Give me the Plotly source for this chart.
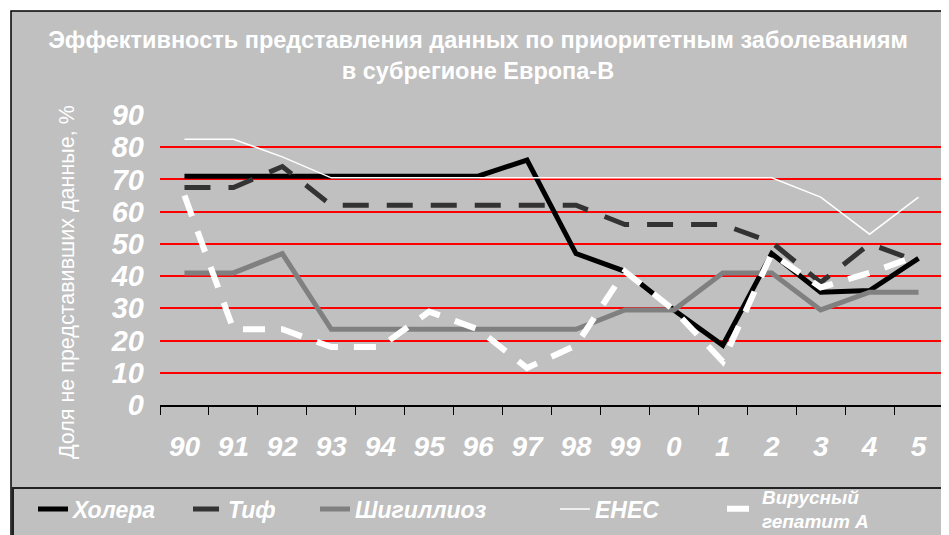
import plotly.graph_objects as go

years = ["90", "91", "92", "93", "94", "95", "96", "97",
         "98", "99", "0", "1", "2", "3", "4", "5"]

holera = [71, 71, 71, 71, 71, 71, 71, 76, 47, 41.5, 29.5, 18.5, 47, 35, 35.5, 45.5]
tif = [67.5, 67.5, 74, 62, 62, 62, 62, 62, 62, 56, 56, 56, 50.5, 38, 50, 44.5]
shigelloz = [41, 41, 47, 23.5, 23.5, 23.5, 23.5, 23.5, 23.5, 29.5, 29.5, 41, 41, 29.5, 35, 35]
ehec = [82.5, 82.5, 77, 70.5, 70.5, 70.5, 70.5, 70.5, 70.5, 70.5, 70.5, 70.5, 70.5, 64.5, 53, 64.5]
hepatit = [65, 23.5, 23.5, 18, 18, 29, 23.5, 11.5, 18.5, 41.5, 29.5, 13.5, 47, 36.5, 41, 46.5]

FONT = "Liberation Sans, Arial, sans-serif"
BG = "#C0C0C0"
W, H = 949, 535
OFF = 8  # page body margin

# plot area in window pixels
L, R, T, B = 160, 943, 115, 405
def px(x): return (x - L) / (R - L)
def py(y): return (B - y) / (B - T)

fig = go.Figure()
fig.add_trace(go.Scatter(x=years, y=holera, name="Холера", mode="lines", legend="legend",
                         line=dict(color="black", width=5)))
fig.add_trace(go.Scatter(x=years, y=tif, name="Тиф", mode="lines", legend="legend2",
                         line=dict(color="#333333", width=5, dash="26px,18px")))
fig.add_trace(go.Scatter(x=years, y=shigelloz, name="Шигиллиоз", mode="lines", legend="legend3",
                         line=dict(color="#808080", width=5)))
fig.add_trace(go.Scatter(x=years, y=ehec, name="EHEC", mode="lines", legend="legend4",
                         line=dict(color="white", width=1.5)))
fig.add_trace(go.Scatter(x=years, y=hepatit, name="Вирусный<br>гепатит А", mode="lines", legend="legend5",
                         line=dict(color="white", width=6, dash="22px,16px")))

leg_font = dict(size=23, weight="bold", style="italic", color="white", family=FONT)
def leg(text_x, size=23):
    f = dict(leg_font, size=size)
    return dict(orientation="h", xref="container", yref="container",
                x=(text_x - 48) / W, xanchor="left", y=1 - 501 / H, yanchor="middle",
                bgcolor="rgba(0,0,0,0)", borderwidth=0, font=f, itemwidth=30)

fig.update_layout(
    width=W, height=H,
    margin=dict(l=L - OFF, r=W - (R - OFF), t=T - OFF, b=H - (B - OFF)),
    paper_bgcolor="white",
    plot_bgcolor="rgba(0,0,0,0)",
    font=dict(family=FONT, color="white"),
    title=dict(
        text="Эффективность представления данных по приоритетным заболеваниям<br>в субрегионе Европа-В",
        x=470 / W, xanchor="center", xref="container",
        y=1 - 40 / H, yanchor="top", yref="container",
        font=dict(size=23.5, weight="bold", color="white", family=FONT),
    ),
    showlegend=True,
    legend=leg(73),
    legend2=leg(228),
    legend3=leg(355),
    legend4=leg(595),
    legend5=leg(762, 19),
    shapes=[
        dict(type="rect", xref="paper", yref="paper", layer="below",
             x0=px(11), x1=px(946), y0=py(545), y1=py(11),
             fillcolor=BG, line=dict(color="black", width=1.5)),
        dict(type="rect", xref="paper", yref="paper", layer="below",
             x0=px(13), x1=px(947), y0=py(545), y1=py(488),
             fillcolor=BG, line=dict(color="#222222", width=2)),
    ],
    annotations=[
        dict(text="Доля не представивших данные, %", textangle=-90,
             xref="paper", yref="paper", x=px(67), y=py(282),
             xanchor="center", yanchor="middle", showarrow=False,
             font=dict(size=21.5, color="white", family=FONT)),
    ],
)

fig.update_xaxes(
    type="category", range=[-0.5, 15.5], automargin=False, showgrid=False, showline=True,
    linecolor="black", linewidth=1.5,
    ticks="outside", tickson="boundaries", ticklen=8, tickcolor="black", tickwidth=1,
    tickfont=dict(size=28, weight="bold", style="italic", color="white", family=FONT),
    ticklabelstandoff=16,
)
fig.update_yaxes(
    range=[0, 90], tickvals=list(range(0, 100, 10)), automargin=False,
    showgrid=True, gridcolor="#FF0000", gridwidth=1.5, zeroline=False, showline=False,
    tickfont=dict(size=29, weight="bold", style="italic", color="white", family=FONT),
    ticklabelstandoff=15,
)

fig.write_html("out.html")
